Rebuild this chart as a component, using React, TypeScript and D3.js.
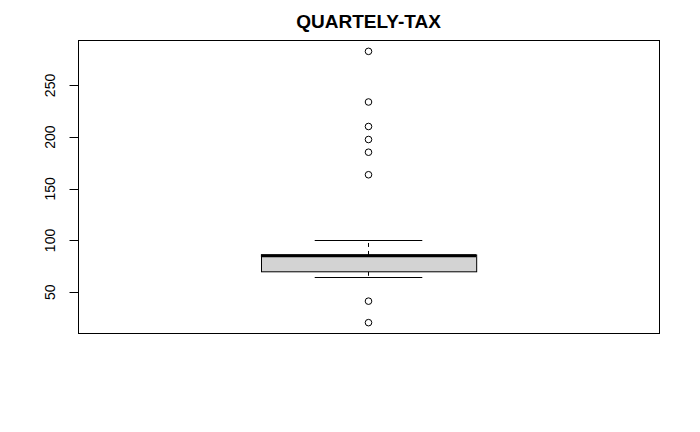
import * as d3 from "d3";
import { useEffect, useRef } from "react";

const WIDTH = 700;
const HEIGHT = 432;
const MARGIN = { top: 40, right: 41, bottom: 99, left: 78 };

// box stats: lower whisker, lower hinge, median, upper hinge, upper whisker
const statNames = ["whiskerLow", "q1", "median", "q3", "whiskerHigh"];
const statValues = [65, 69.7, 85.3, 86, 100.7];
const outliers = [283, 234, 210.3, 197.7, 185.4, 163.6, 41.3, 20.5];
const yTicks = [50, 100, 150, 200, 250];
const title = "QUARTELY-TAX";

export default function App() {
  const ref = useRef<SVGSVGElement>(null);

  useEffect(() => {
    const svg = d3.select(ref.current);
    svg.selectAll("*").remove();

    const stats: Record<string, number> = {};
    statNames.forEach((n, i) => (stats[n] = statValues[i]));

    const lo = d3.min([...outliers, stats.whiskerLow]) as number;
    const hi = d3.max([...outliers, stats.whiskerHigh]) as number;
    const pad = (hi - lo) * 0.04;

    const x = d3
      .scaleLinear()
      .domain([0.46, 1.54])
      .range([MARGIN.left, WIDTH - MARGIN.right]);
    const y = d3
      .scaleLinear()
      .domain([lo - pad, hi + pad])
      .range([HEIGHT - MARGIN.bottom + 0.5, MARGIN.top + 0.5]);

    const font = "'Liberation Sans', Arial, sans-serif";

    // whiskers (dashed)
    svg
      .append("line")
      .attr("x1", x(1))
      .attr("x2", x(1))
      .attr("y1", y(stats.q3))
      .attr("y2", y(stats.whiskerHigh))
      .attr("stroke", "black")
      .attr("stroke-dasharray", "4,4");
    svg
      .append("line")
      .attr("x1", x(1))
      .attr("x2", x(1))
      .attr("y1", y(stats.q1))
      .attr("y2", y(stats.whiskerLow))
      .attr("stroke", "black")
      .attr("stroke-dasharray", "4,4");

    // staples
    [stats.whiskerLow, stats.whiskerHigh].forEach((v) => {
      svg
        .append("line")
        .attr("x1", x(0.9))
        .attr("x2", x(1.1))
        .attr("y1", Math.round(y(v)) + 0.5)
        .attr("y2", Math.round(y(v)) + 0.5)
        .attr("stroke", "black");
    });

    // box
    svg
      .append("rect")
      .attr("x", Math.round(x(0.8)) + 0.5)
      .attr("y", y(stats.q3))
      .attr("width", x(1.2) - x(0.8))
      .attr("height", y(stats.q1) - y(stats.q3))
      .attr("fill", "#d3d3d3")
      .attr("stroke", "black");

    // median
    svg
      .append("line")
      .attr("x1", x(0.8))
      .attr("x2", x(1.2))
      .attr("y1", y(stats.median))
      .attr("y2", y(stats.median))
      .attr("stroke", "black")
      .attr("stroke-width", 3);

    // outliers
    svg
      .selectAll("circle")
      .data(outliers)
      .join("circle")
      .attr("cx", x(1))
      .attr("cy", (d) => y(d))
      .attr("r", 3.3)
      .attr("fill", "none")
      .attr("stroke", "black");

    // plot frame
    svg
      .append("rect")
      .attr("x", MARGIN.left + 0.5)
      .attr("y", MARGIN.top + 0.5)
      .attr("width", WIDTH - MARGIN.left - MARGIN.right)
      .attr("height", HEIGHT - MARGIN.top - MARGIN.bottom)
      .attr("fill", "none")
      .attr("stroke", "black");

    // Y axis
    const yAxis = svg
      .append("g")
      .attr("transform", `translate(${MARGIN.left + 0.5}, 0)`)
      .call(
        d3
          .axisLeft(y)
          .tickValues(yTicks)
          .tickSize(9)
          .tickSizeOuter(0)
      );
    yAxis.select(".domain").remove();
    yAxis.selectAll(".tick").attr("transform", null);
    yAxis
      .selectAll(".tick line")
      .attr("y1", (d) => Math.round(y(d as number)) + 0.5)
      .attr("y2", (d) => Math.round(y(d as number)) + 0.5)
      .attr("stroke", "black");
    yAxis
      .selectAll("text")
      .attr("x", -23.5)
      .attr("y", (d) => y(d as number))
      .attr("dy", 0)
      .attr("transform", (d) => `rotate(-90, -23.5, ${y(d as number)})`)
      .attr("text-anchor", "middle")
      .attr("fill", "black")
      .style("font-family", font)
      .style("font-size", "14px");

    // title
    svg
      .append("text")
      .attr("x", (MARGIN.left + WIDTH - MARGIN.right) / 2)
      .attr("y", 28)
      .attr("text-anchor", "middle")
      .style("font-family", font)
      .style("font-weight", "bold")
      .style("font-size", "19px")
      .text(title);
  }, []);

  return (
    <svg
      ref={ref}
      width={WIDTH}
      height={HEIGHT}
      style={{ position: "absolute", left: 0, top: 0, background: "white" }}
    />
  );
}
